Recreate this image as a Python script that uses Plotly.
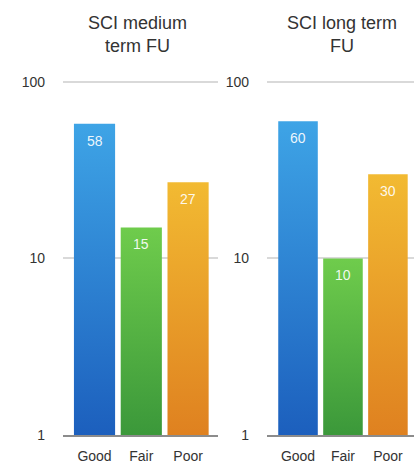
import math
import plotly.graph_objects as go

# Outcome categories and the share (%) of patients in each, per follow-up period
categories = ["Good", "Fair", "Poor"]
medium_term = [58, 15, 27]
long_term = [60, 10, 30]
panel_titles = ["SCI medium<br>term FU", "SCI long term<br>FU"]
y_tick_values = [1, 10, 100]
y_tick_labels = ["1", "10", "100"]

# (bottom colour, top colour) of each category's vertical gradient
bar_gradients = [
    ("#1c5fbd", "#3ea4e6"),
    ("#3b983a", "#6fcc4c"),
    ("#df8120", "#f2ba32"),
]

FONT = "Liberation Sans, Arial, sans-serif"
BAR_WIDTH = 0.88
BASE = 1  # bars rise from the bottom of the log axis

fig = go.Figure()

panels = [
    dict(values=medium_term, xaxis="x", yaxis="y", xref="x", yref="y",
         title=panel_titles[0], title_x=137 / 414),
    dict(values=long_term, xaxis="x2", yaxis="y2", xref="x2", yref="y2",
         title=panel_titles[1], title_x=342 / 414),
]

annotations = []
for panel in panels:
    for i, value in enumerate(panel["values"]):
        left, right = i - BAR_WIDTH / 2, i + BAR_WIDTH / 2
        dark, light = bar_gradients[i]
        fig.add_trace(go.Scatter(
            x=[left, left, right, right, left],
            y=[BASE, value, value, BASE, BASE],
            mode="lines",
            line=dict(width=0),
            fill="toself",
            fillgradient=dict(type="vertical",
                              colorscale=[[0, dark], [1, light]]),
            xaxis=panel["xaxis"], yaxis=panel["yaxis"],
            hoverinfo="skip", showlegend=False,
        ))
        # value label just inside the top of the bar (log axis -> log10 position)
        annotations.append(dict(
            text=str(value), x=i, y=math.log10(value),
            xref=panel["xref"], yref=panel["yref"],
            showarrow=False, yanchor="middle", yshift=-17,
            font=dict(family=FONT, size=14, color="rgba(255,255,255,0.92)"),
        ))
    annotations.append(dict(
        text=panel["title"], x=panel["title_x"], y=1 - 11 / 465,
        xref="paper", yref="paper", xanchor="center", yanchor="top",
        showarrow=False,
        font=dict(family=FONT, size=18, color="#333333"),
    ))

x_common = dict(
    tickvals=list(range(len(categories))),
    ticktext=categories,
    showgrid=False, zeroline=False,
    showline=True, linecolor="#8c8c8c", linewidth=1.5,
    ticks="", ticklabelstandoff=7,
    tickfont=dict(family=FONT, size=14, color="#333333"),
    automargin=False, fixedrange=True,
)
y_common = dict(
    type="log", range=[0, 2.01],
    tickvals=y_tick_values, ticktext=y_tick_labels,
    showgrid=True, gridcolor="#d9d9d9", gridwidth=1.5,
    zeroline=False, showline=False, ticks="",
    ticklabelstandoff=17,
    tickfont=dict(family=FONT, size=14, color="#333333"),
    domain=[30 / 465, 384.8 / 465], automargin=False, fixedrange=True,
)

fig.update_layout(
    width=414, height=465,
    margin=dict(l=0, r=0, t=0, b=0, autoexpand=False),
    paper_bgcolor="white", plot_bgcolor="white",
    xaxis=dict(x_common, domain=[63 / 414, 218 / 414], range=[-0.674, 2.64], anchor="y"),
    xaxis2=dict(x_common, domain=[267 / 414, 1.0], range=[-0.69, 2.58], anchor="y2"),
    yaxis=dict(y_common, anchor="x"),
    yaxis2=dict(y_common, anchor="x2"),
    annotations=annotations,
)

fig.write_html("out.html")
